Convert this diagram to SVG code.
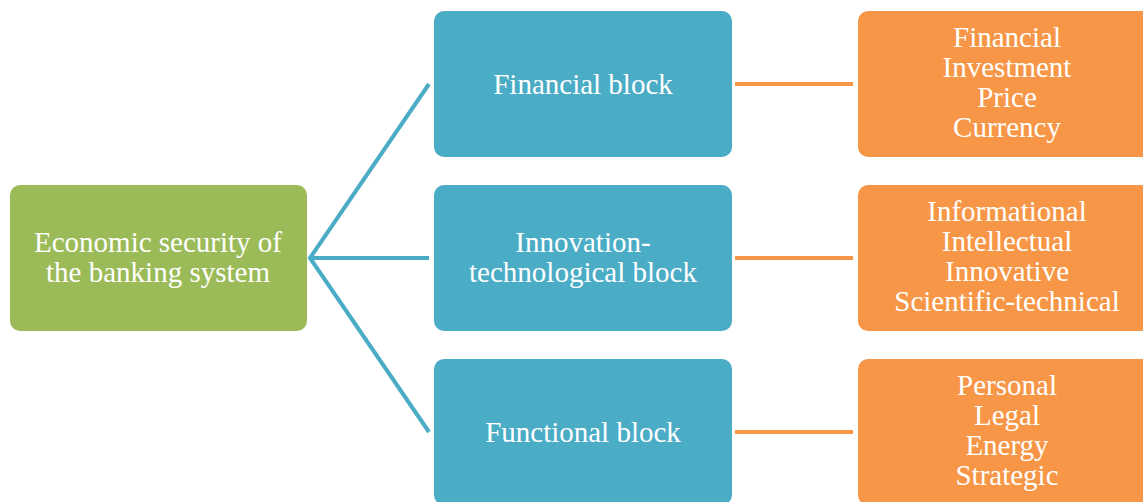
<svg xmlns="http://www.w3.org/2000/svg" width="1143" height="502" viewBox="0 0 1143 502">
<style>
text{font-family:'Liberation Serif','Times New Roman',Times,'DejaVu Serif',serif;font-size:29px;fill:#fff;text-anchor:middle}
.g{fill:#9BBB59}.b{fill:#4BACC6}.o{fill:#F79646}
.cb{stroke:#4BACC6;stroke-width:4;fill:none}
.co{stroke:#F79646;stroke-width:4;fill:none}
</style>
<rect width="1143" height="502" fill="#fff"/>
<g id="connectors">
<path class="cb" d="M429 84 L310 258 L429 432 M310 258 H429"/>
<path class="co" d="M735 84 H853 M735 258 H853 M735 432 H853"/>
</g>
<g id="root"><rect class="g" x="10" y="185" width="297" height="146" rx="10"/>
<text x="158" y="252">Economic security of</text><text x="158" y="282">the banking system</text></g>
<g id="financial"><rect class="b" x="434" y="11" width="298" height="146" rx="10"/>
<text x="583" y="94">Financial block</text></g>
<g id="innovation"><rect class="b" x="434" y="185" width="298" height="146" rx="10"/>
<text x="583" y="252">Innovation-</text><text x="583" y="282">technological block</text></g>
<g id="functional"><rect class="b" x="434" y="359" width="298" height="146" rx="10"/>
<text x="583" y="442">Functional block</text></g>
<g id="fin-list"><rect class="o" x="858" y="11" width="298" height="146" rx="10"/>
<text x="1007" y="47">Financial</text><text x="1007" y="77">Investment</text><text x="1007" y="107">Price</text><text x="1007" y="137">Currency</text></g>
<g id="inn-list"><rect class="o" x="858" y="185" width="298" height="146" rx="10"/>
<text x="1007" y="221">Informational</text><text x="1007" y="251">Intellectual</text><text x="1007" y="281">Innovative</text><text x="1007" y="311">Scientific-technical</text></g>
<g id="fun-list"><rect class="o" x="858" y="359" width="298" height="146" rx="10"/>
<text x="1007" y="395">Personal</text><text x="1007" y="425">Legal</text><text x="1007" y="455">Energy</text><text x="1007" y="485">Strategic</text></g>
</svg>
